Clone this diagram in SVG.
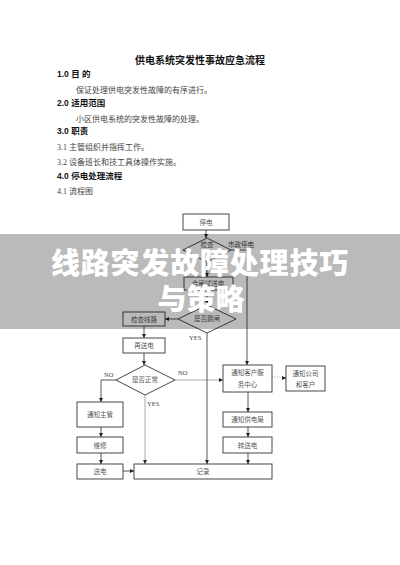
<svg xmlns="http://www.w3.org/2000/svg" width="400" height="565" viewBox="0 0 400 565">
<style>
.bg{fill:#fff}
.title{font-family:"Liberation Sans","Noto Sans CJK SC",sans-serif;font-size:10px;font-weight:bold;fill:#111}
.h{font-family:"Liberation Sans","Noto Sans CJK SC",sans-serif;font-size:8.5px;font-weight:bold;fill:#111}
.b{font-family:"Liberation Serif","Noto Sans CJK SC",serif;font-size:8px;fill:#444}
.box{fill:#fff;stroke:#333;stroke-width:0.9}
.t{font-family:"Liberation Serif","Noto Sans CJK SC",serif;font-size:6.5px;fill:#555;text-anchor:middle}
.lb{font-family:"Liberation Serif","Noto Sans CJK SC",serif;font-size:6.5px;fill:#444}
.c{fill:none;stroke:#444;stroke-width:0.9}
.cl{fill:none;stroke:#aaa;stroke-width:1}
.dot{fill:none;stroke:#888;stroke-width:0.8;stroke-dasharray:1 1.5}
.big{font-family:"Noto Sans CJK SC",sans-serif;font-weight:900;font-size:29px;fill:#fff;text-anchor:middle}
</style>
<defs>
<marker id="ah" viewBox="0 0 6 6" refX="6" refY="3" markerWidth="4" markerHeight="4" orient="auto" markerUnits="userSpaceOnUse">
<path d="M0,0 L6,3 L0,6 z" fill="#222"/>
</marker>
</defs>
<rect class="bg" x="0" y="0" width="400" height="565"/>

<g id="doc-text">
<text class="title" x="200" y="63.5" text-anchor="middle">供电系统突发性事故应急流程</text>
<text class="h" x="57" y="77">1.0 目 的</text>
<text class="b" x="76" y="93">保证处理供电突发性故障的有序进行。</text>
<text class="h" x="57" y="106">2.0 适用范围</text>
<text class="b" x="76" y="122">小区供电系统的突发性故障的处理。</text>
<text class="h" x="57" y="134">3.0  职责</text>
<text class="b" x="57" y="150">3.1 主管组织并指挥工作。</text>
<text class="b" x="57" y="165">3.2 设备班长和技工具体操作实施。</text>
<text class="h" x="57" y="179">4.0 停电处理流程</text>
<text class="b" x="57" y="194">4.1 流程图</text>
</g>

<g id="connectors">
<path class="c" d="M206,230 V238" marker-end="url(#ah)"/>
<path class="c" d="M207,262 V277" marker-end="url(#ah)"/>
<path class="c" d="M207,290 V305" marker-end="url(#ah)"/>
<path class="c" d="M231,250 H247 V365" marker-end="url(#ah)"/>
<path class="c" d="M178,319 H165" marker-end="url(#ah)"/>
<path class="c" d="M144,326 V338" marker-end="url(#ah)"/>
<path class="c" d="M144,353 V365" marker-end="url(#ah)"/>
<path class="c" d="M116,380 H101 V402" marker-end="url(#ah)"/>
<path class="cl" d="M175,380 H223" marker-end="url(#ah)"/>
<path class="cl" d="M145,395 V464" marker-end="url(#ah)"/>
<path class="c" d="M207,333 V464" marker-end="url(#ah)"/>
<path class="c" d="M101,427 V437" marker-end="url(#ah)"/>
<path class="c" d="M101,453 V464" marker-end="url(#ah)"/>
<path class="c" d="M123,471 H134" marker-end="url(#ah)"/>
<path class="c" d="M248,392 V412" marker-end="url(#ah)"/>
<path class="c" d="M248,427 V437" marker-end="url(#ah)"/>
<path class="c" d="M248,453 V464" marker-end="url(#ah)"/>
<path class="dot" d="M272,377 H283"/>
<path class="c" d="M282,378 H286" marker-end="url(#ah)"/>
<text class="lb" x="228" y="247">市政停电</text>
<text class="lb" x="189" y="339.5">YES</text>
<text class="lb" x="104" y="377">NO</text>
<text class="lb" x="178" y="375">NO</text>
<text class="lb" x="147" y="406">YES</text>
</g>

<g id="n-tingdian"><rect class="box" x="183" y="214" width="46" height="16"/><text class="t" x="206" y="224.5">停电</text></g>
<g id="n-jiancha"><polygon class="box" points="207,238 231,250 207,262 183,250"/><text class="t" x="207" y="247">检查</text></g>
<g id="n-hezha"><rect class="box" x="184" y="277" width="49" height="13"/><text class="t" x="208" y="286">合闸试送电</text></g>
<g id="n-tiaozha"><polygon class="box" points="207,305 236,319 207,333 178,319"/><text class="t" x="207" y="321">是否跳闸</text></g>
<g id="n-jianchaxianlu"><rect class="box" x="123" y="312" width="42" height="14"/><text class="t" x="144" y="321.5">检查线路</text></g>
<g id="n-zaisongdian"><rect class="box" x="123" y="338" width="42" height="15"/><text class="t" x="144" y="348">再送电</text></g>
<g id="n-zhengchang"><polygon class="box" points="145,365 175,380 145,395 116,380"/><text class="t" x="145" y="382">是否正常</text></g>
<g id="n-zhuguan"><rect class="box" x="77" y="402" width="46" height="25"/><text class="t" x="100" y="417">通知主管</text></g>
<g id="n-weixiu"><rect class="box" x="77" y="437" width="46" height="16"/><text class="t" x="100" y="447.5">维修</text></g>
<g id="n-songdian"><rect class="box" x="77" y="464" width="46" height="15"/><text class="t" x="100" y="474">送电</text></g>
<g id="n-jilu"><rect class="box" x="134" y="464" width="138" height="15"/><text class="t" x="203" y="474">记录</text></g>
<g id="n-kefu"><rect class="box" x="223" y="365" width="49" height="27"/><text class="t" x="247.5" y="375">通知客户服</text><text class="t" x="247.5" y="387">务中心</text></g>
<g id="n-gongsi"><rect class="box" x="286" y="366" width="39" height="25"/><text class="t" x="305.5" y="375.5">通知公司</text><text class="t" x="305.5" y="387">和客户</text></g>
<g id="n-gongdianju"><rect class="box" x="223" y="412" width="49" height="15"/><text class="t" x="247.5" y="422">通知供电局</text></g>
<g id="n-zhuansongdian"><rect class="box" x="223" y="437" width="49" height="16"/><text class="t" x="247.5" y="447.5">转送电</text></g>

<g id="banner">
<rect x="0" y="234" width="400" height="95" fill="#000" opacity="0.27"/>
<text class="big" x="200" y="274" letter-spacing="0.8">线路突发故障处理技巧</text>
<text class="big" x="201" y="310">与策略</text>
</g>
</svg>
